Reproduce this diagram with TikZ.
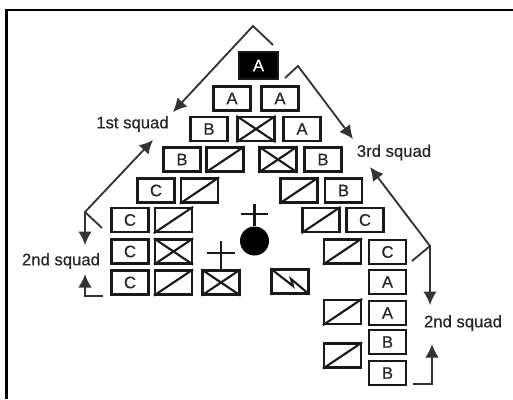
\documentclass[tikz,border=0pt]{standalone}
\usepackage{fontspec}
\setmainfont{Liberation Sans}[RawFeature={embolden=0.5}]
\usepackage{tikz}
\usetikzlibrary{arrows.meta}
\tikzset{
  unitbox/.style={draw=black!90, line width=1.3pt, minimum width=0.74cm, minimum height=0.48cm, inner sep=0pt, text=black!85},
  boxline/.style={line width=1.2pt, black!90},
  squadline/.style={draw=black!80, line width=1.05pt},
  squadarrow/.style={squadline, -{Latex[length=2.7mm, width=2.7mm]}},
  squadlabel/.style={inner sep=0pt, text=black!85}
}
\begin{document}
\begin{tikzpicture}[font=\fontsize{9.5}{11}\selectfont, x=0.02cm, y=-0.02cm]
\useasboundingbox (0,0) rectangle (513,399);
\draw[line width=1.6pt] (6.5,399) -- (6.5,10) -- (513,10);

% lettered boxes
\node[unitbox, fill=black, text=white, minimum width=0.78cm, minimum height=0.54cm] (hq) at (258.5,65.5) {A};
\foreach \name/\px/\py/\letter in {
al/232/98.5/A, ar/280/98.5/A,
bl/209/129/B, br/302/129/A,
cl/182/159.5/B, cr/323/159.5/B,
dl/156/190.5/C, dr/343.5/190.5/B,
el/130/220/C, er/365/220/C,
fl/130/251.5/C, fr/387.5/252/C,
gl/130/282.5/C, gr/387.5/282/A,
hr/387.5/313/A, ir/387.5/342/B, jr/387.5/373/B} {
  \node[unitbox] (\name) at (\px,\py) {\letter};
}

% boxes with one diagonal
\foreach \name/\px/\py in {
sa/225/159.5, sb/199.5/190.5, sc/299/190.5, sd/173.5/220, se/321/220,
sf/342.5/251.5, sg/173.5/282.5, sh/342.5/312, si/342.5/355.5} {
  \node[unitbox] (\name) at (\px,\py) {};
  \draw[boxline] (\name.south west) -- (\name.north east);
}

% crossed boxes
\foreach \name/\px/\py in {
xa/256/129, xb/278/159.5, xc/173.5/251.5, xd/221/282.5} {
  \node[unitbox] (\name) at (\px,\py) {};
  \draw[boxline] (\name.south west) -- (\name.north east);
  \draw[boxline] (\name.north west) -- (\name.south east);
}

% signal box
\node[unitbox] (sig) at (290,281.5) {};
\draw[boxline] (sig.north west) -- (293,286) -- (291,279) -- (sig.south east);

% command post
\node[circle, fill=black, minimum size=0.58cm, inner sep=0pt] (cp) at (254.5,241) {};
\coordinate (cptop) at (254.5,204);
\coordinate (cpl) at (241,214);
\coordinate (cpr) at (268,214);
\draw[boxline] (cptop) -- (cp);
\draw[boxline] (cpl) -- (cpr);
\coordinate (xtop) at (221,241);
\coordinate (xl) at (207,253);
\coordinate (xr) at (235,253);
\draw[boxline] (xtop) -- (xd);
\draw[boxline] (xl) -- (xr);

% squad labels
\node[squadlabel] (first) at (132.5,124) {1st squad};
\node[squadlabel] (third) at (394,152.5) {3rd squad};
\node[squadlabel] (secondl) at (61,261) {2nd squad};
\node[squadlabel] (secondr) at (463,323) {2nd squad};

% brackets and arrows
\coordinate (topa) at (253,26);
\coordinate (topb) at (273,45);
\coordinate (topc) at (173,112);
\draw[squadarrow] (topb) -- (topa) -- (topc);
\coordinate (lefta) at (85,212);
\coordinate (leftb) at (102,228);
\coordinate (leftc) at (153,140);
\coordinate (leftd) at (85,245);
\draw[squadarrow] (leftb) -- (lefta) -- (leftc);
\draw[squadarrow] (lefta) -- (leftd);
\coordinate (lowa) at (103,296);
\coordinate (lowb) at (85,296);
\coordinate (lowc) at (85,274);
\draw[squadarrow] (lowa) -- (lowb) -- (lowc);
\coordinate (righta) at (298,66);
\coordinate (rightb) at (285,78);
\coordinate (rightc) at (353,139);
\draw[squadarrow] (rightb) -- (righta) -- (rightc);
\coordinate (sidea) at (430,246);
\coordinate (sideb) at (412,261);
\coordinate (sidec) at (370,167);
\coordinate (sided) at (430,305);
\draw[squadarrow] (sideb) -- (sidea) -- (sidec);
\draw[squadarrow] (sidea) -- (sided);
\coordinate (basea) at (413,384);
\coordinate (baseb) at (432,384);
\coordinate (basec) at (432,344);
\draw[squadarrow] (basea) -- (baseb) -- (basec);
\end{tikzpicture}
\end{document}
